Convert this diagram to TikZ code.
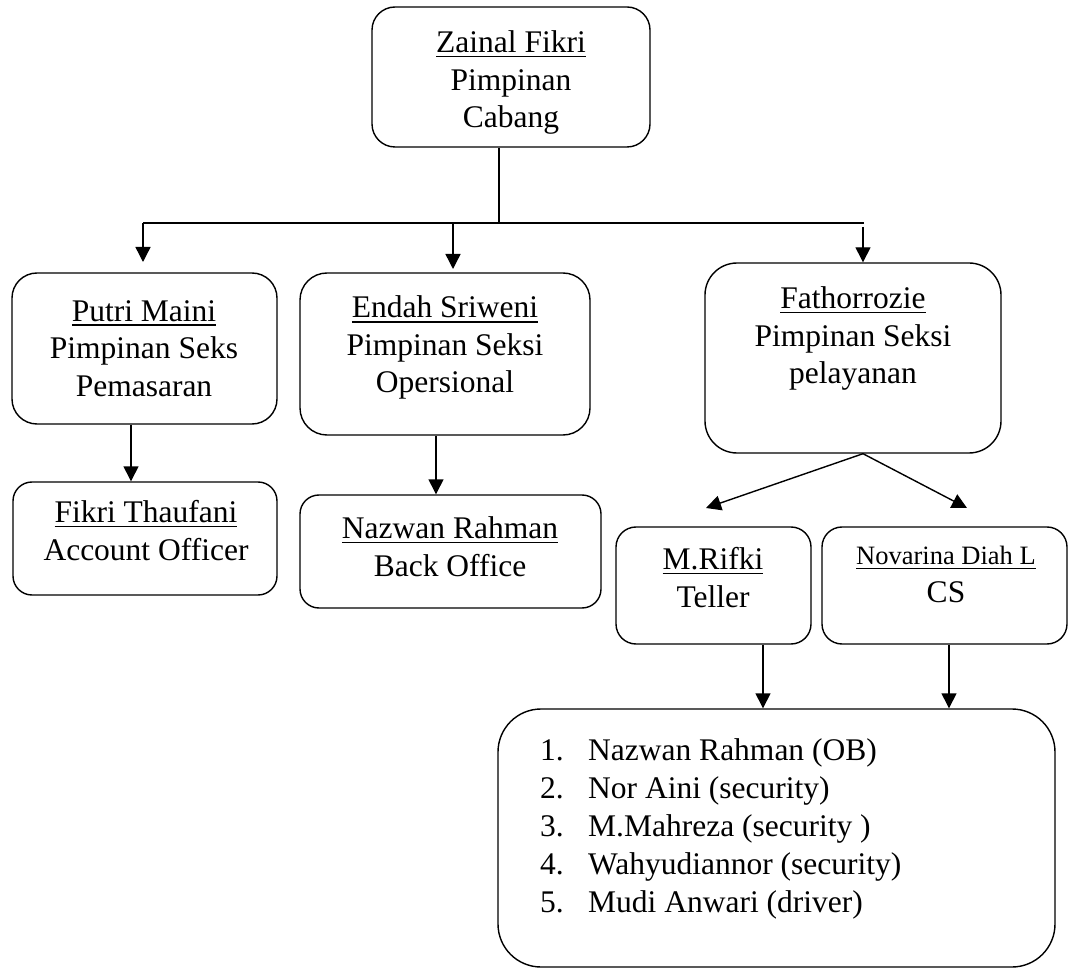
\documentclass[tikz,border=0pt]{standalone}
\usepackage{fontspec}
\setmainfont{Liberation Serif}
\usetikzlibrary{arrows.meta}
\newcommand{\myul}[1]{\setbox0\hbox{#1}\rlap{\rule[-4.5pt]{\wd0}{1.4pt}}\box0}
\begin{document}
\begin{tikzpicture}[x=1pt,y=-1pt,
  box/.style={draw, line width=1.4pt, rounded corners=#1, inner sep=0pt},
  box/.default=20pt,
  lbl/.style={align=center, anchor=base, inner sep=0pt, font=\fontsize{31.5}{37.5}\selectfont},
  arr/.style={line width=1.4pt, -{Triangle[length=15pt,width=15pt]}},
  ln/.style={line width=1.4pt}]
\fill[white] (0,0) rectangle (1069,968);
\useasboundingbox (0,0) rectangle (1069,968);

% boxes
\node[box=23pt, minimum width=278pt, minimum height=140pt] (top) at (511,77) {};
\node[box=25pt, minimum width=265pt, minimum height=151pt] (putri) at (144.5,348.5) {};
\node[box=27pt, minimum width=290pt, minimum height=162pt] (endah) at (445,354) {};
\node[box=32pt, minimum width=296pt, minimum height=190pt] (fath) at (853,358) {};
\node[box=19pt, minimum width=264pt, minimum height=113pt] (fikri) at (145,538.5) {};
\node[box=19pt, minimum width=301pt, minimum height=113pt] (nazwan) at (450.5,551.5) {};
\node[box=20pt, minimum width=195pt, minimum height=117pt] (rifki) at (713.5,585.5) {};
\node[box=20pt, minimum width=245pt, minimum height=117pt] (nova) at (944.5,585.5) {};
\node[box=43pt, minimum width=557pt, minimum height=258pt] (staff) at (776.5,838) {};

% texts (anchor = baseline of the last line)
\node[lbl] (ttop) at (511,128) {\myul{Zainal Fikri}\\Pimpinan\\Cabang};
\node[lbl] (tputri) at (144,396) {\myul{Putri Maini}\\Pimpinan Seks\\Pemasaran};
\node[lbl] (tendah) at (445,393) {\myul{Endah Sriweni}\\Pimpinan Seksi\\Opersional};
\node[lbl] (tfath) at (853,384) {\myul{Fathorrozie}\\Pimpinan Seksi\\pelayanan};
\node[lbl] (tfikri) at (146,560) {\myul{Fikri Thaufani}\\Account Officer};
\node[lbl] (tnazwan) at (450,576) {\myul{Nazwan Rahman}\\Back Office};
\node[lbl] (trifki) at (713,607) {\myul{M.Rifki}\\Teller};
\node[lbl] (tnova) at (946,602) {{\fontsize{26.5}{30}\selectfont\myul{Novarina Diah L}}\\CS};
\node[lbl, align=left, anchor=base west, font=\fontsize{31.5}{37.8}\selectfont] (tstaff) at (540,912)
  {\makebox[48pt][l]{1.}Nazwan Rahman (OB)\\
   \makebox[48pt][l]{2.}Nor Aini (security)\\
   \makebox[48pt][l]{3.}M.Mahreza (security )\\
   \makebox[48pt][l]{4.}Wahyudiannor (security)\\
   \makebox[48pt][l]{5.}Mudi Anwari (driver)};

% connector coordinates
\coordinate (hj) at (499,223);
\coordinate (hl) at (143,223);
\coordinate (hr) at (864,223);
\coordinate (hm) at (453,223);
\coordinate (hr2) at (863,227);
\coordinate (tl) at (143,262);
\coordinate (tm) at (453,269);
\coordinate (cx1) at (131,0);
\coordinate (cx2) at (436,0);
\coordinate (cx3) at (863,0);
\coordinate (cx4) at (763,0);
\coordinate (cx5) at (949,0);
\coordinate (dl) at (706,508);
\coordinate (dr) at (967,508);

% connectors
\draw[ln] (top.south -| hj) -- (hj);
\draw[ln] (hl) -- (hr);
\draw[arr] (hl) -- (tl);
\draw[arr] (hm) -- (tm);
\draw[arr] (hr2) -- (hr2 |- fath.north);
\draw[arr] (putri.south -| cx1) -- (fikri.north -| cx1);
\draw[arr] (endah.south -| cx2) -- (nazwan.north -| cx2);
\draw[arr] (fath.south -| cx3) -- (dl);
\draw[arr] (fath.south -| cx3) -- (dr);
\draw[arr] (rifki.south -| cx4) -- (staff.north -| cx4);
\draw[arr] (nova.south -| cx5) -- (staff.north -| cx5);
\end{tikzpicture}
\end{document}
